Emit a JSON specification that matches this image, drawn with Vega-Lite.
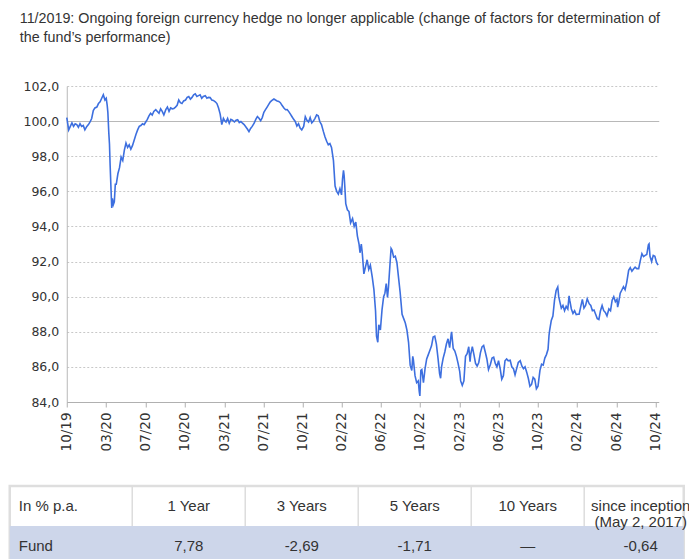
{
  "$schema": "https://vega.github.io/schema/vega-lite/v6.json",
  "background": "white",
  "padding": {"left": 7.75, "top": 11, "right": 4, "bottom": 0},
  "spacing": 33,
  "config": {
    "font": "Liberation Sans",
    "view": {"stroke": null},
    "axis": {"labelFont": "DejaVu Sans", "labelColor": "#333333"}
  },
  "vconcat": [
    {
      "spacing": 0,
      "hconcat": [
        {
          "width": 10,
          "height": 10,
          "data": {"values": []},
          "mark": {"type": "point", "opacity": 0}
        },
        {
          "width": 592,
          "height": 316,
          "title": {
            "text": ["11/2019: Ongoing foreign currency hedge no longer applicable (change of factors for determination of", "the fund’s performance)"],
            "anchor": "start",
            "frame": "group",
            "dx": -47,
            "fontSize": 14.3,
            "fontWeight": "normal",
            "color": "#333333",
            "font": "Liberation Sans",
            "lineHeight": 19,
            "offset": 35
          },
          "data": {
            "values": [
              {"date": "2019-10-31", "value": 100.2},
              {"date": "2019-11-01", "value": 100.1}, {"date": "2019-11-06", "value": 99.5}, {"date": "2019-11-11", "value": 99.7}, {"date": "2019-11-16", "value": 99.9}, {"date": "2019-11-21", "value": 99.7}, {"date": "2019-11-26", "value": 99.85},
              {"date": "2019-12-01", "value": 99.8}, {"date": "2019-12-06", "value": 99.65}, {"date": "2019-12-11", "value": 99.85}, {"date": "2019-12-16", "value": 99.7}, {"date": "2019-12-21", "value": 99.75}, {"date": "2019-12-26", "value": 99.5},
              {"date": "2020-01-01", "value": 99.7}, {"date": "2020-01-06", "value": 99.8}, {"date": "2020-01-11", "value": 99.95}, {"date": "2020-01-16", "value": 100.15}, {"date": "2020-01-21", "value": 100.6}, {"date": "2020-01-26", "value": 100.75},
              {"date": "2020-02-01", "value": 100.8}, {"date": "2020-02-06", "value": 101.0}, {"date": "2020-02-11", "value": 101.1}, {"date": "2020-02-16", "value": 101.3}, {"date": "2020-02-21", "value": 101.5}, {"date": "2020-02-26", "value": 101.2},
              {"date": "2020-03-01", "value": 101.3}, {"date": "2020-03-04", "value": 100.9}, {"date": "2020-03-06", "value": 100.5}, {"date": "2020-03-09", "value": 99.3}, {"date": "2020-03-11", "value": 98.7}, {"date": "2020-03-13", "value": 97.5}, {"date": "2020-03-16", "value": 96.0}, {"date": "2020-03-18", "value": 95.05}, {"date": "2020-03-20", "value": 95.6}, {"date": "2020-03-23", "value": 95.25}, {"date": "2020-03-26", "value": 95.4}, {"date": "2020-03-29", "value": 96.4},
              {"date": "2020-04-01", "value": 96.4}, {"date": "2020-04-06", "value": 97.0}, {"date": "2020-04-11", "value": 97.35}, {"date": "2020-04-16", "value": 97.95}, {"date": "2020-04-21", "value": 97.75}, {"date": "2020-04-26", "value": 98.35},
              {"date": "2020-05-01", "value": 98.75}, {"date": "2020-05-06", "value": 98.5}, {"date": "2020-05-11", "value": 98.65}, {"date": "2020-05-16", "value": 98.4}, {"date": "2020-05-21", "value": 98.6}, {"date": "2020-05-26", "value": 98.9},
              {"date": "2020-06-01", "value": 99.25}, {"date": "2020-06-06", "value": 99.5}, {"date": "2020-06-11", "value": 99.7}, {"date": "2020-06-16", "value": 99.75}, {"date": "2020-06-21", "value": 99.85}, {"date": "2020-06-26", "value": 99.8},
              {"date": "2020-07-01", "value": 99.95}, {"date": "2020-07-06", "value": 100.1}, {"date": "2020-07-11", "value": 100.3}, {"date": "2020-07-16", "value": 100.45}, {"date": "2020-07-21", "value": 100.35}, {"date": "2020-07-26", "value": 100.55},
              {"date": "2020-08-01", "value": 100.65}, {"date": "2020-08-06", "value": 100.55}, {"date": "2020-08-11", "value": 100.45}, {"date": "2020-08-16", "value": 100.7}, {"date": "2020-08-21", "value": 100.55}, {"date": "2020-08-26", "value": 100.35},
              {"date": "2020-09-01", "value": 100.65}, {"date": "2020-09-06", "value": 100.8}, {"date": "2020-09-11", "value": 100.55}, {"date": "2020-09-16", "value": 100.75}, {"date": "2020-09-21", "value": 100.7}, {"date": "2020-09-26", "value": 100.72},
              {"date": "2020-10-01", "value": 100.8}, {"date": "2020-10-06", "value": 100.9}, {"date": "2020-10-11", "value": 101.2}, {"date": "2020-10-16", "value": 101.05}, {"date": "2020-10-21", "value": 101.0}, {"date": "2020-10-26", "value": 101.15},
              {"date": "2020-11-01", "value": 101.2}, {"date": "2020-11-06", "value": 101.35}, {"date": "2020-11-11", "value": 101.4}, {"date": "2020-11-16", "value": 101.25}, {"date": "2020-11-21", "value": 101.35}, {"date": "2020-11-26", "value": 101.5},
              {"date": "2020-12-01", "value": 101.55}, {"date": "2020-12-06", "value": 101.4}, {"date": "2020-12-11", "value": 101.45}, {"date": "2020-12-16", "value": 101.5}, {"date": "2020-12-21", "value": 101.3}, {"date": "2020-12-26", "value": 101.4},
              {"date": "2021-01-01", "value": 101.45}, {"date": "2021-01-06", "value": 101.3}, {"date": "2021-01-11", "value": 101.35}, {"date": "2021-01-16", "value": 101.34}, {"date": "2021-01-21", "value": 101.2}, {"date": "2021-01-26", "value": 101.18},
              {"date": "2021-02-01", "value": 101.1}, {"date": "2021-02-06", "value": 101.0}, {"date": "2021-02-11", "value": 100.75}, {"date": "2021-02-16", "value": 100.4}, {"date": "2021-02-21", "value": 99.8}, {"date": "2021-02-26", "value": 100.15},
              {"date": "2021-03-01", "value": 100.05}, {"date": "2021-03-06", "value": 99.95}, {"date": "2021-03-11", "value": 100.15}, {"date": "2021-03-16", "value": 99.88}, {"date": "2021-03-21", "value": 100.1}, {"date": "2021-03-26", "value": 100.05},
              {"date": "2021-04-01", "value": 99.95}, {"date": "2021-04-06", "value": 100.05}, {"date": "2021-04-11", "value": 100.08}, {"date": "2021-04-16", "value": 99.92}, {"date": "2021-04-21", "value": 99.98}, {"date": "2021-04-26", "value": 99.88},
              {"date": "2021-05-01", "value": 99.8}, {"date": "2021-05-06", "value": 99.68}, {"date": "2021-05-11", "value": 99.55}, {"date": "2021-05-16", "value": 99.4}, {"date": "2021-05-21", "value": 99.58}, {"date": "2021-05-26", "value": 99.7},
              {"date": "2021-06-01", "value": 99.88}, {"date": "2021-06-06", "value": 100.1}, {"date": "2021-06-11", "value": 100.26}, {"date": "2021-06-16", "value": 100.16}, {"date": "2021-06-21", "value": 100.02}, {"date": "2021-06-26", "value": 100.2},
              {"date": "2021-07-01", "value": 100.5}, {"date": "2021-07-06", "value": 100.65}, {"date": "2021-07-11", "value": 100.8}, {"date": "2021-07-16", "value": 100.95}, {"date": "2021-07-21", "value": 101.1}, {"date": "2021-07-26", "value": 101.18},
              {"date": "2021-08-01", "value": 101.26}, {"date": "2021-08-06", "value": 101.2}, {"date": "2021-08-11", "value": 101.15}, {"date": "2021-08-16", "value": 101.12}, {"date": "2021-08-21", "value": 101.05}, {"date": "2021-08-26", "value": 100.9},
              {"date": "2021-09-01", "value": 100.75}, {"date": "2021-09-06", "value": 100.65}, {"date": "2021-09-11", "value": 100.66}, {"date": "2021-09-16", "value": 100.54}, {"date": "2021-09-21", "value": 100.4}, {"date": "2021-09-26", "value": 100.25},
              {"date": "2021-10-01", "value": 100.1}, {"date": "2021-10-06", "value": 99.98}, {"date": "2021-10-11", "value": 99.72}, {"date": "2021-10-16", "value": 99.85}, {"date": "2021-10-21", "value": 99.6}, {"date": "2021-10-26", "value": 99.5},
              {"date": "2021-11-01", "value": 99.7}, {"date": "2021-11-06", "value": 100.25}, {"date": "2021-11-11", "value": 100.05}, {"date": "2021-11-16", "value": 99.95}, {"date": "2021-11-21", "value": 100.2}, {"date": "2021-11-26", "value": 99.9},
              {"date": "2021-12-01", "value": 100.0}, {"date": "2021-12-06", "value": 100.16}, {"date": "2021-12-11", "value": 100.35}, {"date": "2021-12-16", "value": 100.3}, {"date": "2021-12-21", "value": 99.96}, {"date": "2021-12-26", "value": 99.8},
              {"date": "2022-01-01", "value": 99.4}, {"date": "2022-01-06", "value": 99.1}, {"date": "2022-01-11", "value": 98.85}, {"date": "2022-01-16", "value": 98.65}, {"date": "2022-01-21", "value": 98.72}, {"date": "2022-01-26", "value": 98.5},
              {"date": "2022-02-01", "value": 97.75}, {"date": "2022-02-06", "value": 96.3}, {"date": "2022-02-11", "value": 96.0}, {"date": "2022-02-16", "value": 95.85}, {"date": "2022-02-21", "value": 96.15}, {"date": "2022-02-26", "value": 95.8},
              {"date": "2022-03-01", "value": 96.7}, {"date": "2022-03-04", "value": 97.2}, {"date": "2022-03-06", "value": 96.9}, {"date": "2022-03-08", "value": 96.3}, {"date": "2022-03-11", "value": 95.3}, {"date": "2022-03-16", "value": 94.95}, {"date": "2022-03-21", "value": 94.85}, {"date": "2022-03-26", "value": 94.2},
              {"date": "2022-04-01", "value": 94.45}, {"date": "2022-04-06", "value": 94.0}, {"date": "2022-04-11", "value": 94.25}, {"date": "2022-04-16", "value": 93.45}, {"date": "2022-04-21", "value": 93.0}, {"date": "2022-04-24", "value": 92.5}, {"date": "2022-04-28", "value": 93.0},
              {"date": "2022-05-01", "value": 92.5}, {"date": "2022-05-06", "value": 91.3}, {"date": "2022-05-11", "value": 91.7}, {"date": "2022-05-16", "value": 92.1}, {"date": "2022-05-21", "value": 91.55}, {"date": "2022-05-26", "value": 91.8},
              {"date": "2022-06-01", "value": 91.1}, {"date": "2022-06-06", "value": 90.4}, {"date": "2022-06-11", "value": 89.2}, {"date": "2022-06-14", "value": 87.75}, {"date": "2022-06-18", "value": 87.4}, {"date": "2022-06-21", "value": 88.4}, {"date": "2022-06-26", "value": 88.1},
              {"date": "2022-07-01", "value": 89.25}, {"date": "2022-07-06", "value": 90.0}, {"date": "2022-07-10", "value": 90.2}, {"date": "2022-07-14", "value": 90.75}, {"date": "2022-07-18", "value": 89.95}, {"date": "2022-07-21", "value": 90.55}, {"date": "2022-07-26", "value": 91.95}, {"date": "2022-07-29", "value": 92.75},
              {"date": "2022-08-01", "value": 92.65}, {"date": "2022-08-06", "value": 92.25}, {"date": "2022-08-11", "value": 92.3}, {"date": "2022-08-16", "value": 91.95}, {"date": "2022-08-21", "value": 91.1}, {"date": "2022-08-26", "value": 90.25},
              {"date": "2022-09-01", "value": 89.0}, {"date": "2022-09-06", "value": 88.75}, {"date": "2022-09-11", "value": 88.5}, {"date": "2022-09-16", "value": 88.1}, {"date": "2022-09-21", "value": 87.4}, {"date": "2022-09-26", "value": 86.1},
              {"date": "2022-10-01", "value": 85.8}, {"date": "2022-10-04", "value": 86.6}, {"date": "2022-10-06", "value": 86.4}, {"date": "2022-10-11", "value": 85.5}, {"date": "2022-10-16", "value": 85.1}, {"date": "2022-10-21", "value": 85.2}, {"date": "2022-10-24", "value": 84.6}, {"date": "2022-10-26", "value": 84.35}, {"date": "2022-10-29", "value": 85.8},
              {"date": "2022-11-01", "value": 85.85}, {"date": "2022-11-06", "value": 85.1}, {"date": "2022-11-11", "value": 85.9}, {"date": "2022-11-16", "value": 86.45}, {"date": "2022-11-21", "value": 86.7}, {"date": "2022-11-26", "value": 86.95},
              {"date": "2022-12-01", "value": 87.2}, {"date": "2022-12-06", "value": 87.7}, {"date": "2022-12-11", "value": 87.75}, {"date": "2022-12-16", "value": 87.3}, {"date": "2022-12-21", "value": 86.5}, {"date": "2022-12-26", "value": 85.6}, {"date": "2022-12-29", "value": 85.35},
              {"date": "2023-01-01", "value": 86.0}, {"date": "2023-01-06", "value": 86.5}, {"date": "2023-01-11", "value": 86.85}, {"date": "2023-01-16", "value": 87.3}, {"date": "2023-01-21", "value": 87.6}, {"date": "2023-01-26", "value": 87.1}, {"date": "2023-01-31", "value": 87.9},
              {"date": "2023-02-01", "value": 88.0}, {"date": "2023-02-06", "value": 87.05}, {"date": "2023-02-11", "value": 86.9}, {"date": "2023-02-16", "value": 86.6}, {"date": "2023-02-21", "value": 86.2}, {"date": "2023-02-26", "value": 85.75},
              {"date": "2023-03-01", "value": 85.2}, {"date": "2023-03-06", "value": 84.95}, {"date": "2023-03-11", "value": 85.2}, {"date": "2023-03-16", "value": 86.6}, {"date": "2023-03-21", "value": 86.75}, {"date": "2023-03-26", "value": 87.15}, {"date": "2023-03-30", "value": 86.3},
              {"date": "2023-04-01", "value": 86.7}, {"date": "2023-04-06", "value": 87.15}, {"date": "2023-04-11", "value": 86.7}, {"date": "2023-04-16", "value": 86.2}, {"date": "2023-04-21", "value": 86.05}, {"date": "2023-04-26", "value": 86.25},
              {"date": "2023-05-01", "value": 86.8}, {"date": "2023-05-06", "value": 87.14}, {"date": "2023-05-11", "value": 87.22}, {"date": "2023-05-16", "value": 86.85}, {"date": "2023-05-21", "value": 86.45}, {"date": "2023-05-26", "value": 85.85},
              {"date": "2023-06-01", "value": 86.15}, {"date": "2023-06-06", "value": 86.5}, {"date": "2023-06-11", "value": 86.55}, {"date": "2023-06-16", "value": 86.2}, {"date": "2023-06-21", "value": 86.0}, {"date": "2023-06-26", "value": 86.35},
              {"date": "2023-07-01", "value": 85.9}, {"date": "2023-07-06", "value": 85.3}, {"date": "2023-07-11", "value": 85.5}, {"date": "2023-07-16", "value": 86.35}, {"date": "2023-07-21", "value": 86.45}, {"date": "2023-07-26", "value": 86.35},
              {"date": "2023-08-01", "value": 86.38}, {"date": "2023-08-06", "value": 86.0}, {"date": "2023-08-11", "value": 85.9}, {"date": "2023-08-16", "value": 85.55}, {"date": "2023-08-21", "value": 85.9}, {"date": "2023-08-26", "value": 86.25},
              {"date": "2023-09-01", "value": 86.35}, {"date": "2023-09-06", "value": 86.05}, {"date": "2023-09-11", "value": 85.9}, {"date": "2023-09-16", "value": 86.0}, {"date": "2023-09-21", "value": 85.7}, {"date": "2023-09-26", "value": 85.35},
              {"date": "2023-10-01", "value": 84.9}, {"date": "2023-10-06", "value": 85.0}, {"date": "2023-10-11", "value": 85.4}, {"date": "2023-10-16", "value": 85.3}, {"date": "2023-10-21", "value": 84.75}, {"date": "2023-10-26", "value": 84.9}, {"date": "2023-10-30", "value": 85.5},
              {"date": "2023-11-01", "value": 85.8}, {"date": "2023-11-06", "value": 86.15}, {"date": "2023-11-11", "value": 86.1}, {"date": "2023-11-16", "value": 86.5}, {"date": "2023-11-21", "value": 86.7}, {"date": "2023-11-26", "value": 87.0}, {"date": "2023-11-29", "value": 87.8},
              {"date": "2023-12-01", "value": 88.1}, {"date": "2023-12-06", "value": 88.65}, {"date": "2023-12-11", "value": 88.9}, {"date": "2023-12-16", "value": 89.8}, {"date": "2023-12-21", "value": 90.35}, {"date": "2023-12-26", "value": 90.55}, {"date": "2023-12-29", "value": 90.0},
              {"date": "2024-01-01", "value": 89.75}, {"date": "2024-01-06", "value": 89.35}, {"date": "2024-01-11", "value": 89.5}, {"date": "2024-01-16", "value": 89.2}, {"date": "2024-01-21", "value": 89.45}, {"date": "2024-01-26", "value": 89.3}, {"date": "2024-01-30", "value": 90.05},
              {"date": "2024-02-01", "value": 89.8}, {"date": "2024-02-06", "value": 89.3}, {"date": "2024-02-11", "value": 89.05}, {"date": "2024-02-16", "value": 89.2}, {"date": "2024-02-21", "value": 88.98}, {"date": "2024-02-26", "value": 89.0},
              {"date": "2024-03-01", "value": 89.0}, {"date": "2024-03-06", "value": 89.43}, {"date": "2024-03-11", "value": 89.85}, {"date": "2024-03-16", "value": 89.35}, {"date": "2024-03-21", "value": 89.5}, {"date": "2024-03-26", "value": 89.88},
              {"date": "2024-04-01", "value": 89.6}, {"date": "2024-04-06", "value": 89.5}, {"date": "2024-04-11", "value": 89.2}, {"date": "2024-04-16", "value": 89.24}, {"date": "2024-04-21", "value": 89.0}, {"date": "2024-04-26", "value": 88.75},
              {"date": "2024-05-01", "value": 88.7}, {"date": "2024-05-06", "value": 89.2}, {"date": "2024-05-11", "value": 89.5}, {"date": "2024-05-16", "value": 89.2}, {"date": "2024-05-21", "value": 89.1}, {"date": "2024-05-26", "value": 88.9},
              {"date": "2024-06-01", "value": 89.3}, {"date": "2024-06-06", "value": 89.2}, {"date": "2024-06-11", "value": 89.8}, {"date": "2024-06-16", "value": 90.0}, {"date": "2024-06-21", "value": 89.71}, {"date": "2024-06-26", "value": 89.85}, {"date": "2024-06-28", "value": 89.4},
              {"date": "2024-07-01", "value": 89.65}, {"date": "2024-07-06", "value": 90.2}, {"date": "2024-07-11", "value": 90.38}, {"date": "2024-07-16", "value": 90.57}, {"date": "2024-07-21", "value": 90.4}, {"date": "2024-07-26", "value": 90.8},
              {"date": "2024-08-01", "value": 91.5}, {"date": "2024-08-06", "value": 91.65}, {"date": "2024-08-11", "value": 91.45}, {"date": "2024-08-16", "value": 91.58}, {"date": "2024-08-21", "value": 91.68}, {"date": "2024-08-26", "value": 91.6},
              {"date": "2024-09-01", "value": 91.6}, {"date": "2024-09-06", "value": 92.05}, {"date": "2024-09-11", "value": 92.45}, {"date": "2024-09-16", "value": 92.28}, {"date": "2024-09-21", "value": 92.35}, {"date": "2024-09-26", "value": 92.4},
              {"date": "2024-10-01", "value": 92.95}, {"date": "2024-10-03", "value": 93.0}, {"date": "2024-10-06", "value": 92.3}, {"date": "2024-10-11", "value": 92.0}, {"date": "2024-10-16", "value": 92.35}, {"date": "2024-10-21", "value": 92.3}, {"date": "2024-10-26", "value": 91.95}, {"date": "2024-10-31", "value": 91.8}
            ]
          },
          "mark": {"type": "line", "color": "#3d6fdf", "strokeWidth": 1.6},
          "encoding": {
            "x": {
              "field": "date",
              "type": "temporal",
              "scale": {"type": "utc", "domain": [{"year": 2019, "month": 10, "date": 31, "utc": true}, {"year": 2024, "month": 11, "date": 2, "utc": true}]},
              "axis": {
                "title": null,
                "labelExpr": "utcFormat(datum.value, '%m/%y')",
                "values": [
                  {"year": 2019, "month": 10, "date": 31, "utc": true},
                  {"year": 2020, "month": 3, "date": 1, "utc": true},
                  {"year": 2020, "month": 7, "date": 1, "utc": true},
                  {"year": 2020, "month": 10, "date": 29, "utc": true},
                  {"year": 2021, "month": 3, "date": 1, "utc": true},
                  {"year": 2021, "month": 7, "date": 1, "utc": true},
                  {"year": 2021, "month": 10, "date": 28, "utc": true},
                  {"year": 2022, "month": 2, "date": 26, "utc": true},
                  {"year": 2022, "month": 6, "date": 27, "utc": true},
                  {"year": 2022, "month": 10, "date": 26, "utc": true},
                  {"year": 2023, "month": 2, "date": 25, "utc": true},
                  {"year": 2023, "month": 6, "date": 26, "utc": true},
                  {"year": 2023, "month": 10, "date": 25, "utc": true},
                  {"year": 2024, "month": 2, "date": 23, "utc": true},
                  {"year": 2024, "month": 6, "date": 24, "utc": true},
                  {"year": 2024, "month": 10, "date": 23, "utc": true}
                ],
                "labelAngle": -90,
                "labelAlign": "right",
                "labelBaseline": "middle",
                "labelFontSize": 13.5,
                "labelPadding": 5,
                "labelOverlap": false,
                "labelFlush": false,
                "tickSize": 5,
                "grid": false,
                "domainColor": "#b0b0b0",
                "tickColor": "#b0b0b0"
              }
            },
            "y": {
              "field": "value",
              "type": "quantitative",
              "scale": {"domain": [84, 102], "nice": false, "zero": false},
              "axis": {
                "title": null,
                "values": [84, 86, 88, 90, 92, 94, 96, 98, 100, 102],
                "labelExpr": "replace(format(datum.value, '.1f'), '.', ',')",
                "ticks": false,
                "labelPadding": 8,
                "labelFontSize": 12.5,
                "grid": true,
                "gridColor": {"condition": {"test": "datum.value === 100", "value": "#b8b8b8"}, "value": "#c8c8c8"},
                "gridDash": {"condition": {"test": "datum.value === 100", "value": []}, "value": [2, 2]},
                "domainColor": "#b8b8b8"
              }
            }
          }
        }
      ]
    },
    {
      "width": 674,
      "height": 80,
      "view": {"stroke": "#dedede", "strokeWidth": 2.5},
      "layer": [
        {
          "data": {"values": [{"b": 0.5}, {"b": 1.5}, {"b": 2.5}, {"b": 3.5}, {"b": 4.5}]},
          "mark": {"type": "rule", "color": "#dddddd", "strokeWidth": 1.5},
          "encoding": {
            "x": {"field": "b", "type": "quantitative", "scale": {"domain": [-0.584, 5.381], "nice": false, "zero": false}, "axis": null}
          }
        },
        {
          "data": {"values": [{"row": "fund"}]},
          "mark": {"type": "rect", "color": "#cdd6ea"},
          "encoding": {
            "y": {"field": "row", "type": "nominal", "scale": {"domain": ["head", "fund"], "paddingInner": 0, "paddingOuter": 0}, "axis": null}
          }
        },
        {
          "data": {"values": [{"row": "head", "col": 0, "text": "In % p.a."}, {"row": "fund", "col": 0, "text": "Fund"}]},
          "mark": {"type": "text", "align": "left", "dx": -57, "fontSize": 15, "color": "#333333", "font": "Liberation Sans"},
          "encoding": {
            "x": {"field": "col", "type": "quantitative", "axis": null},
            "y": {"field": "row", "type": "nominal", "axis": null},
            "text": {"field": "text"}
          }
        },
        {
          "data": {"values": [
            {"row": "head", "col": 1, "text": "1 Year"},
            {"row": "head", "col": 2, "text": "3 Years"},
            {"row": "head", "col": 3, "text": "5 Years"},
            {"row": "head", "col": 4, "text": "10 Years"},
            {"row": "head", "col": 5, "text": "since inception\n(May 2, 2017)"},
            {"row": "fund", "col": 1, "text": "7,78"},
            {"row": "fund", "col": 2, "text": "-2,69"},
            {"row": "fund", "col": 3, "text": "-1,71"},
            {"row": "fund", "col": 4, "text": "—"},
            {"row": "fund", "col": 5, "text": "-0,64"}
          ]},
          "mark": {"type": "text", "align": "center", "fontSize": 15, "color": "#333333", "font": "Liberation Sans", "lineBreak": "\n", "lineHeight": 16},
          "encoding": {
            "x": {"field": "col", "type": "quantitative", "axis": null},
            "y": {"field": "row", "type": "nominal", "axis": null},
            "text": {"field": "text"}
          }
        }
      ]
    }
  ]
}
